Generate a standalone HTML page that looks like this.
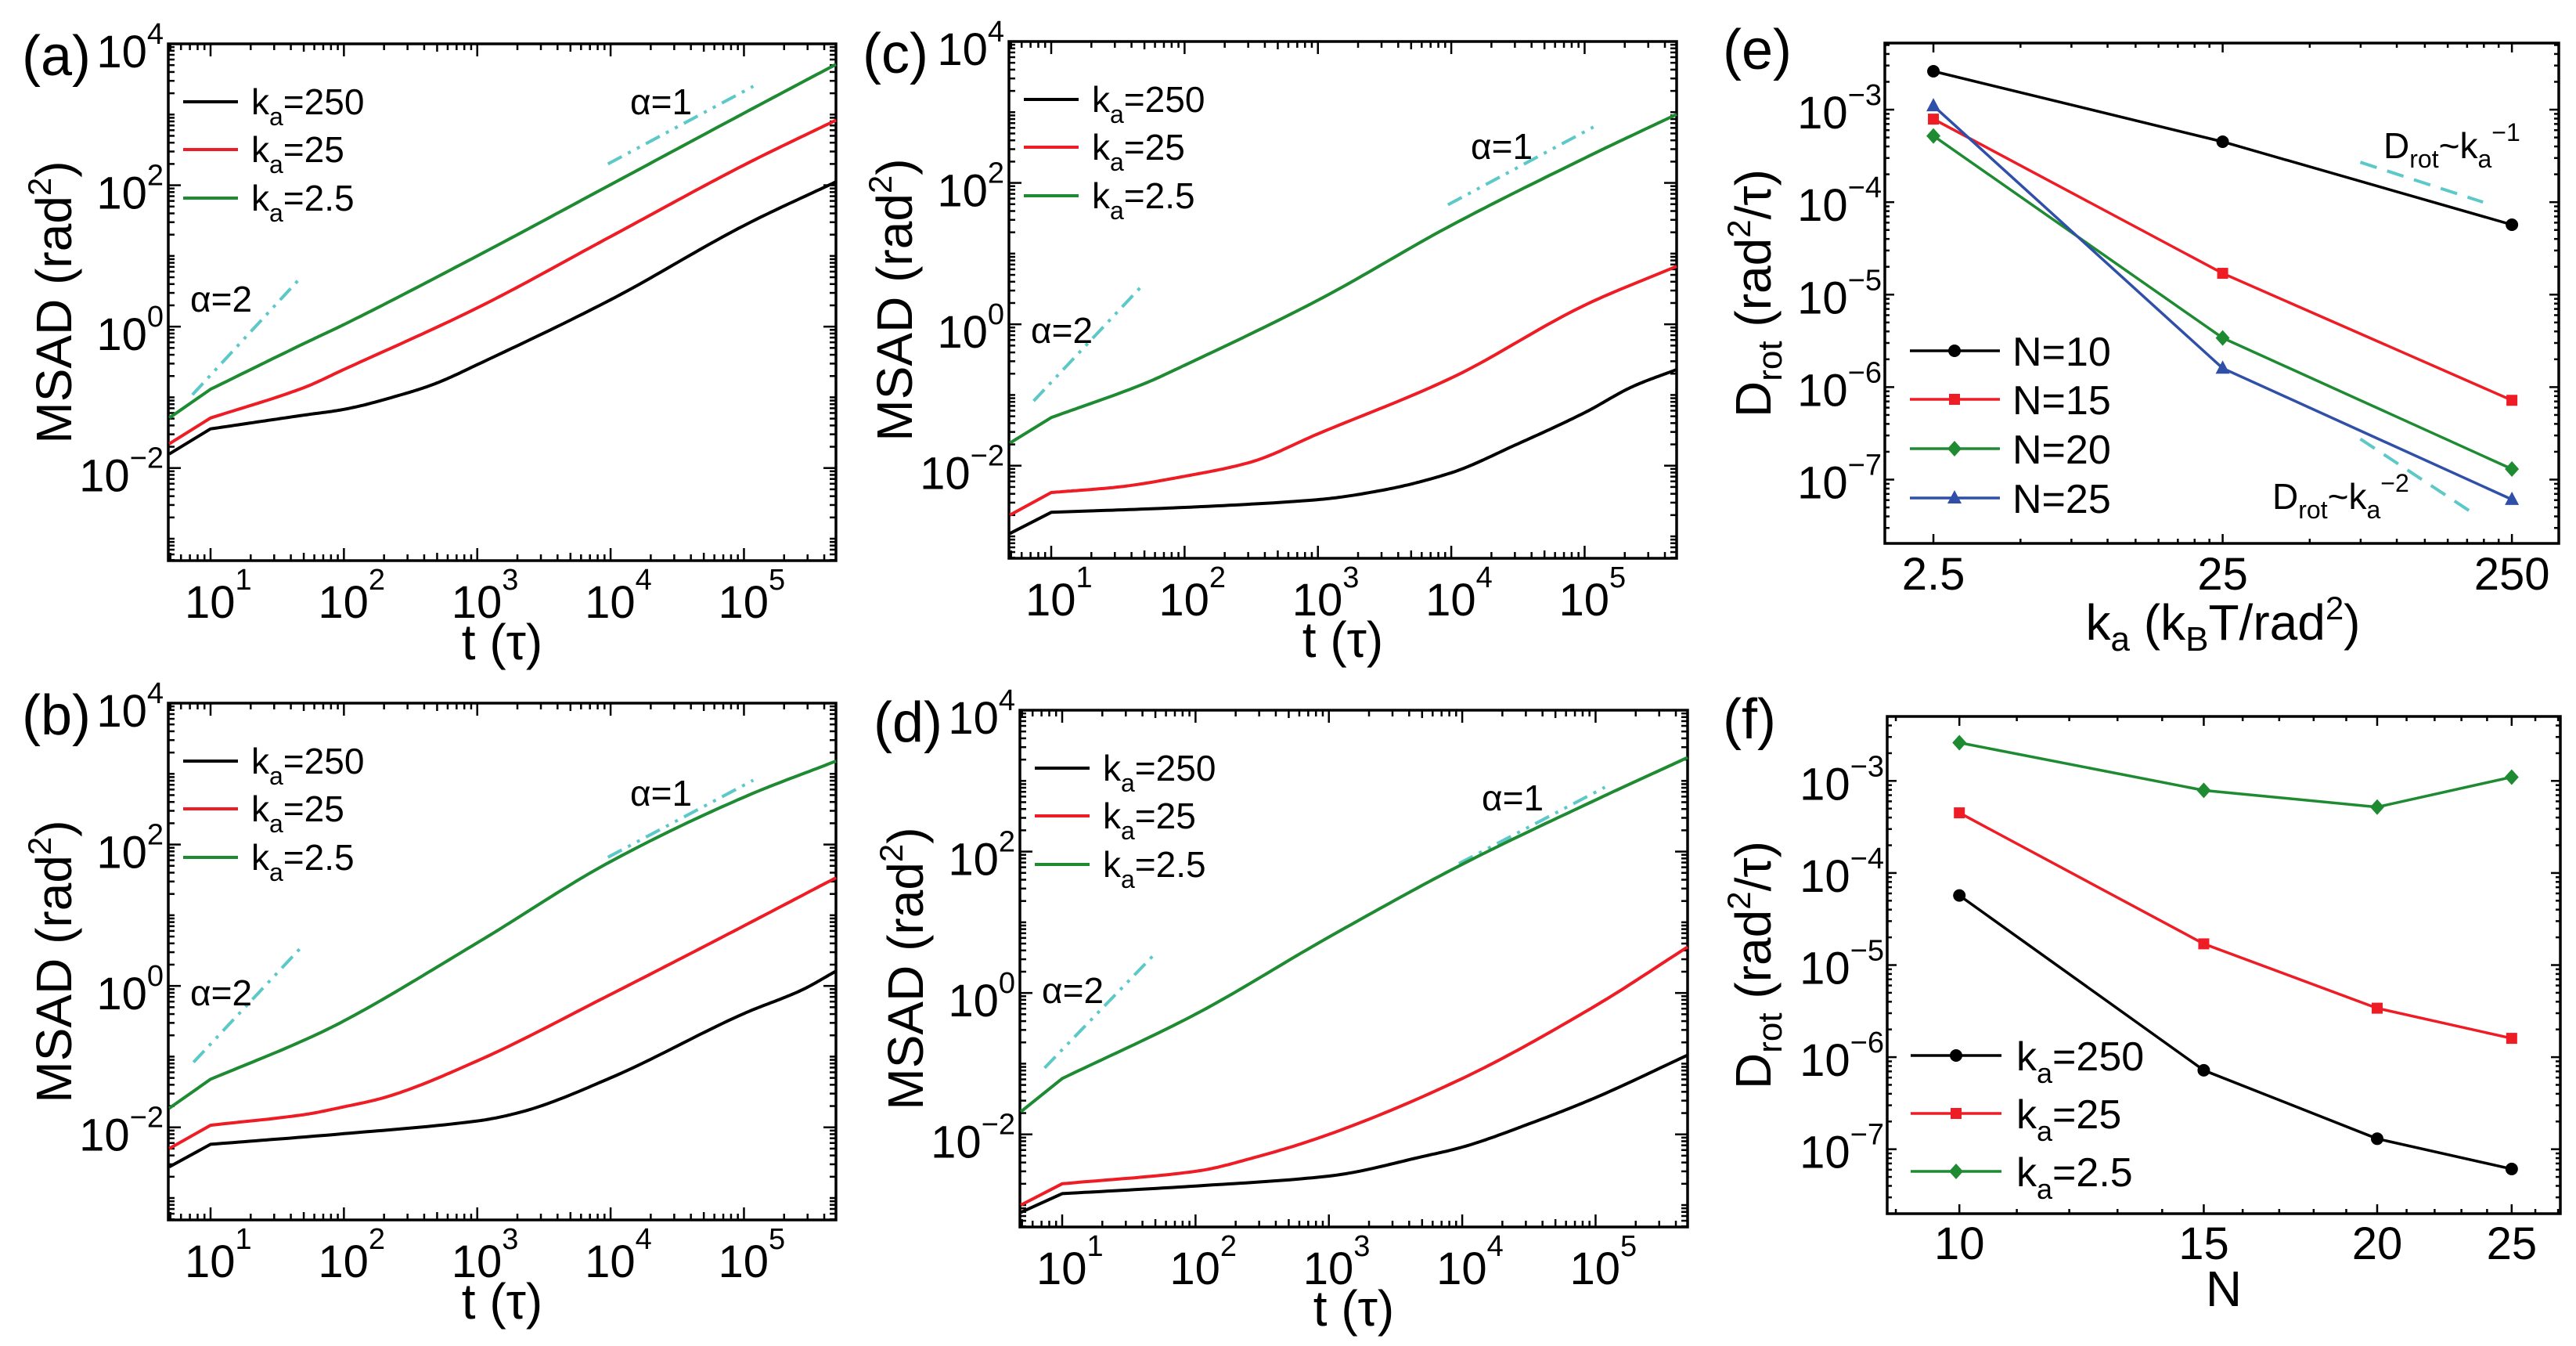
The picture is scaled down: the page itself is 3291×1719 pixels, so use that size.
<!DOCTYPE html>
<html><head><meta charset="utf-8"><style>
html,body{margin:0;padding:0;background:#fff;}
svg{display:block;font-family:"Liberation Sans",Arial,sans-serif;}
</style></head><body>
<svg id="fig" xmlns="http://www.w3.org/2000/svg" width="3291" height="1719" viewBox="0 0 3291 1719">
<rect x="0" y="0" width="3291" height="1719" fill="#fff"/>
</svg>
<script>
// ---------- MSAD data (t, MSAD) ----------
const aT_black=[4.9,10,50,100,320,500,1000,1e4,1e5,4.9e5];
const aY_black=[0.0158,0.0358,0.056,0.0676,0.12,0.16,0.29,2.4,26.9,112];
const aT_red=[4.9,10,50,100,1000,1e4,1e5,4.9e5];
const aY_red=[0.022,0.051,0.137,0.248,1.84,18.8,193,832];
const aT_green=[4.9,10,50,100,1000,1e4,1e5,4.9e5];
const aY_green=[0.051,0.13,0.575,1.07,10,102,1047,5130];

const bT_black=[4.9,10,100,1000,2140,1e4,1e5,2.7e5,4.9e5];
const bY_black=[0.00275,0.00575,0.00813,0.0123,0.0165,0.0501,0.407,0.871,1.62];
const bT_red=[4.9,10,50,100,200,1000,1e4,1e5,4.9e5];
const bY_red=[0.005,0.0107,0.0151,0.0195,0.0263,0.0871,0.759,7.08,33.9];
const bT_green=[4.9,10,50,100,1000,1e4,1e5,4.9e5];
const bY_green=[0.0186,0.0479,0.17,0.32,4.07,57.5,468,1514];

const cT_black=[4.9,10,100,1000,3000,1e4,3e4,1e5,2.3e5,4.9e5];
const cY_black=[0.0011,0.00219,0.00257,0.00331,0.00447,0.00794,0.0195,0.0562,0.132,0.229];
const cT_red=[4.9,10,32,100,312,1000,1e4,1e5,4.9e5];
const cY_red=[0.002,0.00417,0.005,0.00708,0.0112,0.0282,0.174,1.86,6.61];
const cT_green=[4.9,10,50,100,1000,1e4,1e5,4.9e5];
const cY_green=[0.0209,0.0479,0.145,0.263,2.19,25.1,224,933];

const dT_black=[4.9,10,100,1000,5400,1e4,3.5e4,1e5,4.9e5];
const dY_black=[0.00079,0.00145,0.00186,0.00257,0.005,0.0066,0.0151,0.0331,0.132];
const dT_red=[4.9,10,100,310,1000,1e4,1e5,4.9e5];
const dY_red=[0.001,0.002,0.003,0.005,0.01,0.0617,0.661,4.47];
const dT_green=[4.9,10,100,1000,1e4,1e5,4.9e5];
const dY_green=[0.0209,0.0617,0.501,6.17,66.1,537,2138];

// guide lines [t0, y0, t1, y1]
const aGuide2=[7.31,0.1087,48.6,5.19];
const aGuide1=[9550,200,117500,2512];
const bGuide2=[7.45,0.0832,47.8,3.51];
const bGuide1=[9550,66.1,117500,813];
const cGuide2=[7.38,0.0822,48.2,3.54];
const cGuide1=[9440,49,116400,617];
const dGuide2=[7.38,0.0871,49.1,3.51];
const dGuide1=[9440,67.6,117500,813];

const msadXTicks=[1,2,3,4,5];
const msadYTicks=[-2,0,2,4];
const seriesNames=['k_a=250','k_a=25','k_a=2.5'];

// ---------- D_rot data ----------
const eKa=[2.5,25,250];
const eN10=[2.6e-3,4.5e-4,5.7e-5];
const eN15=[7.9e-4,1.7e-5,7.2e-7];
const eN20=[5.2e-4,3.4e-6,1.3e-7];
const eN25=[1.1e-3,1.6e-6,6.1e-8];
const eGuideSlope1=[74.8,2.7e-4,198.6,1.0e-4];
const eGuideSlope2=[74.8,2.75e-7,180.7,4.47e-8];
const eXTickLabels=['2.5','25','250'];
const fN=[10,15,20,25];
const fK250=[5.7e-5,7.2e-7,1.3e-7,6.1e-8];
const fK25=[4.5e-4,1.7e-5,3.4e-6,1.6e-6];
const fK2p5=[2.6e-3,7.9e-4,5.2e-4,1.1e-3];
const drotYTicks=[-7,-6,-5,-4,-3];

const NS='http://www.w3.org/2000/svg';
const svg=document.getElementById('fig');
function el(tag,parent){const e=document.createElementNS(NS,tag);parent.appendChild(e);return e;}
function set(e,o){for(const k in o)e.setAttribute(k,o[k]);return e;}
function ts(t,txt,o){const s=el('tspan',t);set(s,o||{});s.textContent=txt;return s;}

const COL={black:'#000',red:'#ee1c24',green:'#1e8a32',blue:'#2f4fa8',cyan:'#5cc8c8'};

function logAxis(lo,hi,p0,p1){return v=>p0+(Math.log10(v)-lo)/(hi-lo)*(p1-p0);}

// monotone cubic interpolation in log-log space; first segment linear (kink at t=10)
function monoSample(ts_,ys_){
  const x=ts_.map(Math.log10), y=ys_.map(Math.log10), n=x.length;
  const out=[[x[0],y[0]],[x[1],y[1]]];
  const d=[];for(let i=1;i<n-1;i++)d.push((y[i+1]-y[i])/(x[i+1]-x[i]));
  const xs=x.slice(1), yv=y.slice(1), m=[];
  for(let i=0;i<xs.length;i++){
    if(i===0)m.push(d[0]);else if(i===xs.length-1)m.push(d[d.length-1]);
    else m.push(d[i-1]*d[i]<=0?0:2/(1/d[i-1]+1/d[i]));
  }
  for(let i=0;i<xs.length-1;i++){
    const h=xs[i+1]-xs[i];
    for(let s=1;s<=24;s++){const t=s/24,t2=t*t,t3=t2*t;
      const v=(2*t3-3*t2+1)*yv[i]+(t3-2*t2+t)*h*m[i]+(-2*t3+3*t2)*yv[i+1]+(t3-t2)*h*m[i+1];
      out.push([xs[i]+t*h,v]);}
  }
  return out;
}

function frame(g,L,T,W,H){
  const r=el('rect',g);
  
  
  set(r,{x:L,y:T,width:W,height:H,fill:'none',stroke:'#000','stroke-width':3.5});
}
function tick(g,x1,y1,x2,y2,w){
  const l=el('line',g);
  
  
  set(l,{x1:x1,y1:y1,x2:x2,y2:y2,stroke:'#000','stroke-width':w||3});
}

function panelLetter(g,x,y,s){
  const t=el('text',g);
  
  
  set(t,{x:x,y:y,'font-size':72});t.textContent=s;
}

function msadPanel(cfg){
  const g=el('g',svg);
  
  
  const L=cfg.L,T=cfg.T,W=853,H=660;
  const X=logAxis(0.683,5.69,L,L+W), Y=logAxis(4,-3.31,T,T+H);
  for(let n=0;n<=5;n++){for(let k=1;k<=9;k++){const v=k*Math.pow(10,n);const lv=Math.log10(v);if(lv<0.683||lv>5.69)continue;const len=k===1?16:(k===5?10:8);const px=X(v);tick(g,px,T+H,px,T+H-len,2.5);tick(g,px,T,px,T+len,2.5);}}
  for(let n=-4;n<=4;n++){for(let k=1;k<=9;k++){const v=k*Math.pow(10,n);const lv=Math.log10(v);if(lv<-3.31||lv>4)continue;const len=(k===1&&n%2===0)?16:8;const py=Y(v);tick(g,L,py,L+len,py,2.5);tick(g,L+W,py,L+W-len,py,2.5);}}
  frame(g,L,T,W,H);
  msadXTicks.forEach(n=>{const t=el('text',g);set(t,{x:X(Math.pow(10,n))-33,y:T+H+73,'font-size':58});ts(t,'10');ts(t,String(n),{dy:-36,'font-size':38});});
  msadYTicks.forEach(n=>{const t=el('text',g);set(t,{x:L-6,y:Y(Math.pow(10,n))+30,'font-size':58,'text-anchor':'end'});ts(t,'10');ts(t,n<0?'\u2212'+(-n):String(n),{dy:-30,'font-size':38});});
  const xt=el('text',g);
  set(xt,{x:L+W/2,y:T+H+126,'font-size':64,'text-anchor':'middle'});xt.textContent='t (\u03c4)';
  const yt=el('text',g);
  set(yt,{x:0,y:0,'font-size':64,'text-anchor':'middle',transform:`translate(${L-124},${T+H/2}) rotate(-90)`});
  ts(yt,'MSAD (rad');ts(yt,'2',{dy:-26,'font-size':42});ts(yt,')',{dy:26});
  panelLetter(g,L-187,T+40,'('+cfg.id+')');
  [cfg.g2,cfg.g1].forEach((gd,i)=>{const l=el('line',g);
    set(l,{x1:X(gd[0]),y1:Y(gd[1]),x2:X(gd[2]),y2:Y(gd[3]),stroke:COL.cyan,'stroke-width':4,'stroke-dasharray':'20 9 4 9 4 9'});});
  const a2=el('text',g);
  set(a2,{x:L+28,y:T+cfg.a2y+16,'font-size':46});a2.textContent='\u03b1=2';
  const a1=el('text',g);
  set(a1,{x:L+590,y:T+cfg.a1y+16,'font-size':46});a1.textContent='\u03b1=1';
  const cols=[COL.black,COL.red,COL.green];
  cfg.series.forEach((s,i)=>{const p=el('polyline',g);
    const pts=monoSample(s[0],s[1]).map(q=>X(Math.pow(10,q[0])).toFixed(1)+','+Y(Math.pow(10,q[1])).toFixed(1));
    set(p,{points:pts.join(' '),fill:'none',stroke:cols[i],'stroke-width':4,'stroke-linejoin':'round'});});
  const ly=[74,135,197];
  ['250','25','2.5'].forEach((v,i)=>{const l=el('line',g);
    set(l,{x1:L+19,y1:T+ly[i],x2:L+89,y2:T+ly[i],stroke:cols[i],'stroke-width':4});
    const t=el('text',g);
    set(t,{x:L+106,y:T+ly[i]+16,'font-size':46});ts(t,'k');ts(t,'a',{dy:14,'font-size':32});ts(t,'='+v,{dy:-14});});
}

msadPanel({id:'a',L:215,T:56,g2:aGuide2,g1:aGuide1,a2y:326,a1y:74,series:[[aT_black,aY_black],[aT_red,aY_red],[aT_green,aY_green]]});
msadPanel({id:'b',L:215,T:898,g2:bGuide2,g1:bGuide1,a2y:370,a1y:115,series:[[bT_black,bY_black],[bT_red,bY_red],[bT_green,bY_green]]});
msadPanel({id:'c',L:1289,T:53,g2:cGuide2,g1:cGuide1,a2y:369,a1y:134,series:[[cT_black,cY_black],[cT_red,cY_red],[cT_green,cY_green]]});
msadPanel({id:'d',L:1303,T:907,g2:dGuide2,g1:dGuide1,a2y:358,a1y:112,series:[[dT_black,dY_black],[dT_red,dY_red],[dT_green,dY_green]]});

function marker(g,type,x,y,c){
  let m;
  if(type==='circle'){m=el('circle',g);set(m,{cx:x,cy:y,r:8,fill:c});}
  else if(type==='square'){m=el('rect',g);set(m,{x:x-7,y:y-7,width:14,height:14,fill:c});}
  else if(type==='diamond'){m=el('polygon',g);set(m,{points:`${x},${y-10} ${x+9},${y} ${x},${y+10} ${x-9},${y}`,fill:c});}
  else {m=el('polygon',g);set(m,{points:`${x},${y-10} ${x+9},${y+7} ${x-9},${y+7}`,fill:c});}
  
  
}

function drotYAxis(g,L,T,W,H,Y){
  for(let n=-8;n<=-2;n++){for(let k=1;k<=9;k++){const v=k*Math.pow(10,n);const py=Y(v);if(py<T||py>T+H)continue;const len=k===1?12:6;tick(g,L,py,L+len,py,2.5);tick(g,L+W,py,L+W-len,py,2.5);}}
  drotYTicks.forEach(n=>{const t=el('text',g);
    set(t,{x:L-4,y:Y(Math.pow(10,n))+24,'font-size':58,'text-anchor':'end'});ts(t,'10');ts(t,'\u2212'+(-n),{dy:-30,'font-size':38});});
  const yt=el('text',g);
  set(yt,{x:0,y:0,'font-size':64,'text-anchor':'middle',transform:`translate(${2262},${T+H/2}) rotate(-90)`});
  ts(yt,'D');ts(yt,'rot',{dy:14,'font-size':44});ts(yt,' (rad',{dy:-14});ts(yt,'2',{dy:-26,'font-size':42});ts(yt,'/\u03c4)',{dy:26});
}

// ---------- panel e ----------
(function(){
  const g=el('g',svg);
  const L=2408,T=55,W=861,H=639;
  const X=logAxis(0.23,2.56,L,L+W), Y=logAxis(-2.28,-7.69,T,T+H);
  for(let n=0;n<=2;n++){for(let k=1;k<=9;k++){const v=2.5*k*Math.pow(10,n);const px=X(v);if(px<L||px>L+W)continue;const len=k===1?12:6;tick(g,px,T+H,px,T+H-len,2.5);tick(g,px,T,px,T+len,2.5);}}
  drotYAxis(g,L,T,W,H,Y);
  frame(g,L,T,W,H);
  eKa.forEach((v,i)=>{const t=el('text',g);
    set(t,{x:X(v),y:T+H+59,'font-size':58,'text-anchor':'middle'});t.textContent=eXTickLabels[i];});
  const xt=el('text',g);
  set(xt,{x:2840,y:817,'font-size':64,'text-anchor':'middle'});
  ts(xt,'k');ts(xt,'a',{dy:14,'font-size':44});ts(xt,' (k',{dy:-14});ts(xt,'B',{dy:14,'font-size':44});ts(xt,'T/rad',{dy:-14});ts(xt,'2',{dy:-26,'font-size':42});ts(xt,')',{dy:26});
  panelLetter(g,2201,88,'(e)');
  [eGuideSlope1,eGuideSlope2].forEach((gd,i)=>{const l=el('line',g);
    set(l,{x1:X(gd[0]),y1:Y(gd[1]),x2:X(gd[2]),y2:Y(gd[3]),stroke:COL.cyan,'stroke-width':4,'stroke-dasharray':'22 14'});});
  [[3045,202,'\u22121'],[2903,650,'\u22122']].forEach((a,i)=>{const t=el('text',g);
    set(t,{x:a[0],y:a[1],'font-size':46});ts(t,'D');ts(t,'rot',{dy:12,'font-size':32});ts(t,'~k',{dy:-12});ts(t,'a',{dy:12,'font-size':32});ts(t,a[2],{dy:-34,'font-size':32});});
  const series=[[eN10,COL.black,'circle','N=10'],[eN15,COL.red,'square','N=15'],[eN20,COL.green,'diamond','N=20'],[eN25,COL.blue,'triangle','N=25']];
  series.forEach(s=>{const p=el('polyline',g);
    set(p,{points:eKa.map((k,j)=>X(k).toFixed(1)+','+Y(s[0][j]).toFixed(1)).join(' '),fill:'none',stroke:s[1],'stroke-width':3.5});
    eKa.forEach((k,j)=>marker(g,s[2],X(k),Y(s[0][j]),s[1]));});
  const ly=[448,510,573,636];
  series.forEach((s,i)=>{const l=el('line',g);
    set(l,{x1:2440,y1:ly[i],x2:2555,y2:ly[i],stroke:s[1],'stroke-width':3.5});marker(g,s[2],2497,ly[i],s[1]);
    const t=el('text',g);
    set(t,{x:2571,y:ly[i]+19,'font-size':52});t.textContent=s[3];});
})();

// ---------- panel f ----------
(function(){
  const g=el('g',svg);
  const L=2411,T=915,W=860,H=635;
  const X=logAxis(0.948,1.433,L,L+W), Y=logAxis(-2.30,-7.70,T,T+H);
  for(let n=9;n<=27;n++){const px=X(n);if(px<L||px>L+W)continue;const len=(n%5===0)?12:6;tick(g,px,T+H,px,T+H-len,2.5);tick(g,px,T,px,T+len,2.5);}
  drotYAxis(g,L,T,W,H,Y);
  frame(g,L,T,W,H);
  fN.forEach(v=>{const t=el('text',g);
    set(t,{x:X(v),y:T+H+58,'font-size':58,'text-anchor':'middle'});t.textContent=String(v);});
  const xt=el('text',g);
  set(xt,{x:2841,y:1668,'font-size':64,'text-anchor':'middle'});xt.textContent='N';
  panelLetter(g,2201,943,'(f)');
  const series=[[fK250,COL.black,'circle',['250']],[fK25,COL.red,'square',['25']],[fK2p5,COL.green,'diamond',['2.5']]];
  series.forEach(s=>{const p=el('polyline',g);
    set(p,{points:fN.map((n,j)=>X(n).toFixed(1)+','+Y(s[0][j]).toFixed(1)).join(' '),fill:'none',stroke:s[1],'stroke-width':3.5});
    fN.forEach((n,j)=>marker(g,s[2],X(n),Y(s[0][j]),s[1]));});
  const ly=[1348,1422,1496];
  series.forEach((s,i)=>{const l=el('line',g);
    set(l,{x1:2441,y1:ly[i],x2:2557,y2:ly[i],stroke:s[1],'stroke-width':3.5});marker(g,s[2],2499,ly[i],s[1]);
    const t=el('text',g);
    set(t,{x:2576,y:ly[i]+19,'font-size':52});ts(t,'k');ts(t,'a',{dy:16,'font-size':36});ts(t,'='+s[3][0],{dy:-16});});
})();
</script>
</body></html>
